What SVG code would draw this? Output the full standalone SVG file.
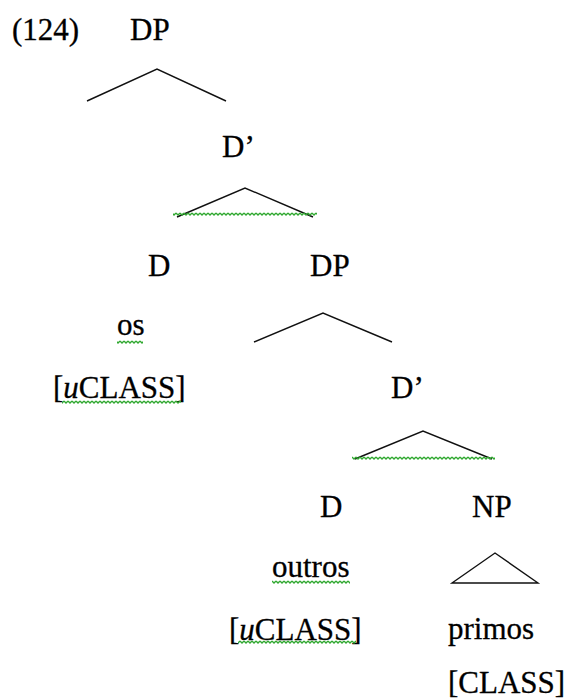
<svg xmlns="http://www.w3.org/2000/svg" width="571" height="700" viewBox="0 0 571 700">
  <defs>
    <!-- green wavy underline used by the spelling marks -->
    <pattern id="wavy" width="4" height="4" patternUnits="userSpaceOnUse">
      <path d="M0,1 L2,3 L4,1" fill="none" stroke="#2fa82f" stroke-width="1.3"/>
    </pattern>
  </defs>
  <style>
    text { font-family: "Liberation Serif", "Times New Roman", serif; font-size: 31px; fill: #000; stroke: #000; stroke-width: 0.3; }
    .branch { fill: none; stroke: #111; stroke-width: 1.4; }
    .wave { fill: url(#wavy); }
  </style>
  <rect width="571" height="700" fill="#fff"/>

  <text id="label-124" x="12" y="40">(124)</text>

  <g id="n-dp1"><text x="130" y="40">DP</text></g>
  <g id="n-dbar1"><text x="222" y="157">D’</text></g>
  <g id="n-d1">
    <text x="148" y="276">D</text>
    <text x="117" y="335">os</text>
    <text x="53" y="398">[<tspan font-style="italic">u</tspan>CLASS]</text>
    <rect class="wave" x="117" y="340" width="26" height="4"/>
    <rect class="wave" x="62" y="400" width="119" height="4"/>
  </g>
  <g id="n-dp2"><text x="310" y="276">DP</text></g>
  <g id="n-dbar2"><text x="391" y="398">D’</text></g>
  <g id="n-d2">
    <text x="320" y="517">D</text>
    <text x="272" y="577">outros</text>
    <text x="229" y="640">[<tspan font-style="italic">u</tspan>CLASS]</text>
    <rect class="wave" x="272" y="580" width="78" height="4"/>
    <rect class="wave" x="238" y="640" width="118" height="4"/>
  </g>
  <g id="n-np">
    <text x="472" y="517">NP</text>
    <text x="448" y="639">primos</text>
    <text x="448" y="693">[CLASS]</text>
  </g>

  <g id="connectors">
    <polyline class="branch" points="87,101 157,69 226,101"/>
    <polyline class="branch" points="177,217 245,188 313,217"/>
    <rect class="wave" x="173" y="212" width="144" height="4"/>
    <polyline class="branch" points="254,342 323,313 392,342"/>
    <polyline class="branch" points="355,459 423,431 492,459"/>
    <rect class="wave" x="352" y="456" width="143" height="4"/>
    <polygon class="branch" points="452,583 495,553 538,583"/>
  </g>
</svg>
